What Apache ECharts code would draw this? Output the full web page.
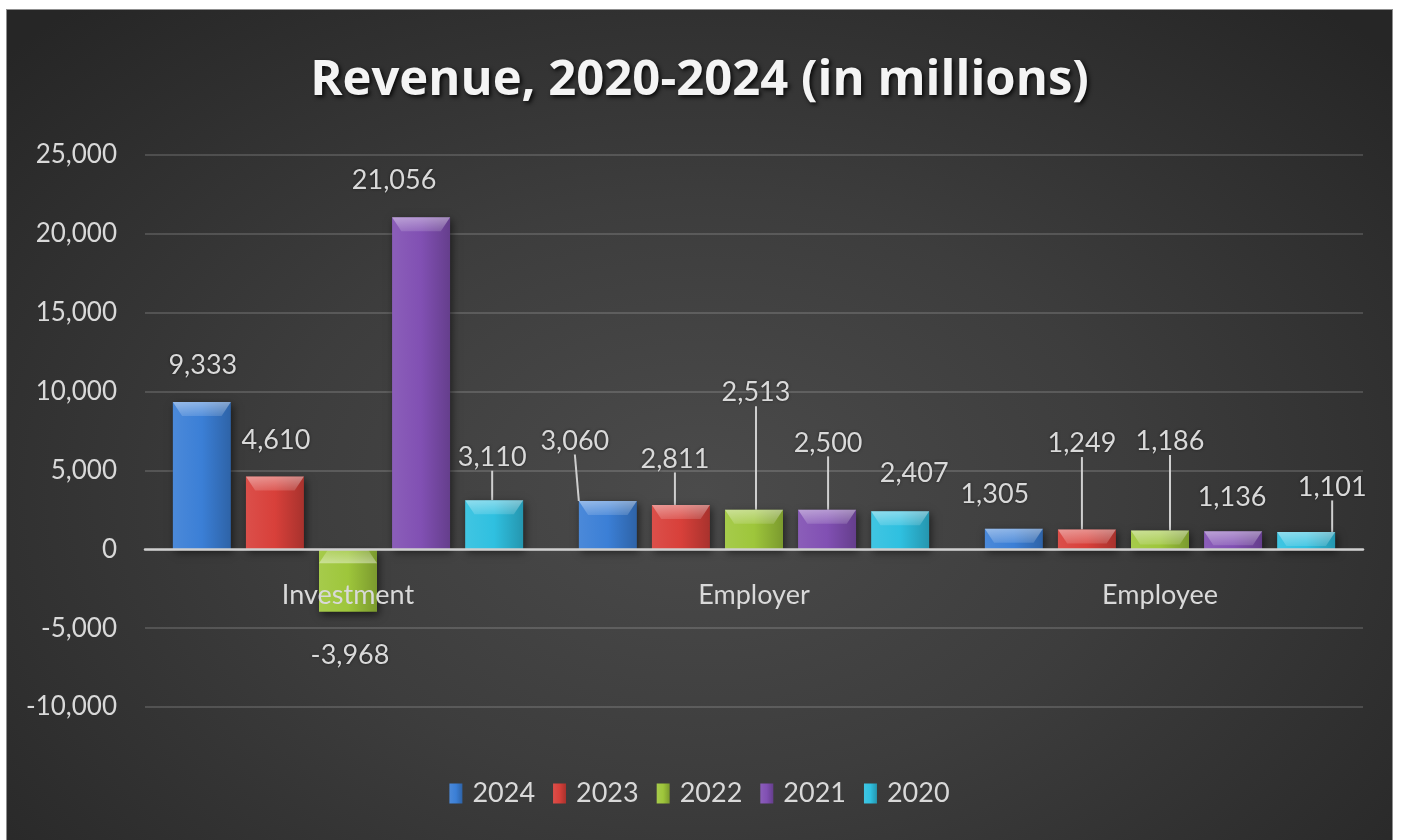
<!DOCTYPE html>
<html>
<head>
<meta charset="utf-8">
<title>Revenue, 2020-2024 (in millions)</title>
<script src="https://cdn.jsdelivr.net/npm/echarts@6/dist/echarts.min.js"></script>
<style>
  html, body { margin: 0; padding: 0; background: #ffffff; width: 1402px; height: 840px; overflow: hidden; }
  #chart {
    position: absolute; left: 7px; top: 10px; width: 1385px; height: 830px;
    background: radial-gradient(ellipse 68% 78% at 50% 58%, #4b4b4b 0%, #3d3d3d 45%, #262626 100%);
    box-shadow: 0 0 0 1px #8f8f8f;
  }
</style>
</head>
<body>
<div id="chart"></div>
<script>
// Revenue by source, in millions
const categories = ['Investment', 'Employer', 'Employee'];
const years = ['2024', '2023', '2022', '2021', '2020'];
const revenue2024 = [9333, 3060, 1305];
const revenue2023 = [4610, 2811, 1249];
const revenue2022 = [-3968, 2513, 1186];
const revenue2021 = [21056, 2500, 1136];
const revenue2020 = [3110, 2407, 1101];
const yMin = -10000, yMax = 25000, yStep = 5000;

const seriesValues = [revenue2024, revenue2023, revenue2022, revenue2021, revenue2020];
const baseColors = ['#3b7fd6', '#d8403a', '#9ec63b', '#8150b3', '#2fc0e0'];

// Label placement: pixel offset of the label centre from the bar's end, per category
const labelOffsets = [
  [[1, -37], [-33, -60], [-19, -34]],
  [[1, -36], [-6, -46], [-5, -86]],
  [[2, 43], [2, -117], [10, -89]],
  [[-27, -37], [1, -67], [-1, -34]],
  [[-2, -43], [14, -38], [26, -45]]
];
// Which labels get a leader line
const leaderLines = [
  [false, true, false],
  [false, true, true],
  [false, true, true],
  [false, true, false],
  [true, false, true]
];

const fmt = v => Number(v).toLocaleString('en-US');
const FONT = 'Lato, "Open Sans", sans-serif';
const TEXT = '#d9d9d9';

function shade(hex, f) {
  const n = parseInt(hex.slice(1), 16);
  let r = (n >> 16) & 255, g = (n >> 8) & 255, b = n & 255;
  const t = f < 0 ? 0 : 255, p = Math.abs(f);
  r = Math.round((t - r) * p + r); g = Math.round((t - g) * p + g); b = Math.round((t - b) * p + b);
  return 'rgb(' + r + ',' + g + ',' + b + ')';
}

const BAR_W = 58;
const BAR_GAP = '26%';

const series = [];
years.forEach((year, s) => {
  const vals = seriesValues[s];
  const base = baseColors[s];
  series.push({
    name: year,
    type: 'bar',
    barWidth: BAR_W,
    barGap: BAR_GAP,
    z: 2,
    data: vals.map((v, i) => ({
      value: v,
      labelLine: { show: leaderLines[s][i] }
    })),
    itemStyle: {
      color: {
        type: 'linear', x: 0, y: 0, x2: 1, y2: 0,
        colorStops: [
          { offset: 0, color: shade(base, 0.08) },
          { offset: 0.5, color: base },
          { offset: 1, color: shade(base, -0.22) }
        ]
      },
      shadowColor: 'rgba(0,0,0,0.55)',
      shadowBlur: 8,
      shadowOffsetX: 2,
      shadowOffsetY: 3
    },
    label: {
      show: true,
      position: 'top',
      color: TEXT,
      fontFamily: FONT,
      fontSize: 27,
      textShadowColor: 'rgba(0,0,0,0.5)',
      textShadowBlur: 3,
      formatter: p => fmt(p.value)
    },
    labelLine: {
      show: false,
      length2: 0,
      lineStyle: { color: '#cfcfcf', width: 2 }
    },
    labelLayout: function (p) {
      const r = p.rect;
      const top = Math.min(r.y, r.y + r.height);
      const bottom = Math.max(r.y, r.y + r.height);
      const cx = r.x + r.width / 2;
      const endY = vals[p.dataIndex] < 0 ? bottom : top;
      const off = labelOffsets[s][p.dataIndex];
      return { x: cx + off[0], y: endY + off[1], align: 'center', verticalAlign: 'middle' };
    }
  });
});

// Bevelled top face of each bar
years.forEach((year, s) => {
  series.push({
    name: year + ' bevel',
    type: 'pictorialBar',
    barWidth: BAR_W,
    barGap: BAR_GAP,
    silent: true,
    z: 3,
    symbol: 'path://M0,0 L100,0 L84,100 L16,100 Z',
    symbolSize: ['100%', 14],
    itemStyle: {
      color: {
        type: 'linear', x: 0, y: 0, x2: 0, y2: 1,
        colorStops: [
          { offset: 0, color: 'rgba(255,255,255,0.42)' },
          { offset: 1, color: 'rgba(255,255,255,0.14)' }
        ]
      }
    },
    label: { show: false },
    tooltip: { show: false },
    data: seriesValues[s].map(v => ({
      value: v,
      symbolPosition: v < 0 ? 'start' : 'end'
    }))
  });
});

const chart = echarts.init(document.getElementById('chart'), null, { renderer: 'canvas' });
chart.setOption({
  animation: false,
  backgroundColor: 'transparent',
  title: {
    text: 'Revenue, 2020-2024 (in millions)',
    left: 'center',
    top: 42,
    textStyle: {
      color: '#f4f4f4',
      fontFamily: '"Open Sans", Lato, sans-serif',
      fontWeight: 'bold',
      fontSize: 49,
      textShadowColor: 'rgba(0,0,0,0.85)',
      textShadowBlur: 4,
      textShadowOffsetX: 2,
      textShadowOffsetY: 2
    }
  },
  legend: {
    data: years,
    bottom: 28,
    left: 'center',
    icon: 'rect',
    itemWidth: 13,
    itemHeight: 20,
    itemGap: 18,
    textStyle: { color: TEXT, fontFamily: FONT, fontSize: 27, padding: [0, 0, 0, 5] }
  },
  grid: {
    left: 138, right: 29, top: 145, bottom: 133,
    containLabel: false,
    outerBoundsMode: 'none'
  },
  xAxis: {
    type: 'category',
    data: categories,
    z: 10,
    axisLine: { onZero: false, lineStyle: { color: '#cfcfcf', width: 2.5 } },
    axisTick: { show: false },
    axisLabel: { color: TEXT, fontFamily: FONT, fontSize: 27, margin: 33 },
    splitLine: { show: false }
  },
  yAxis: {
    type: 'value',
    min: yMin,
    max: yMax,
    interval: yStep,
    axisLine: { show: false },
    axisTick: { show: false },
    axisLabel: {
      color: TEXT, fontFamily: FONT, fontSize: 26, margin: 28,
      formatter: v => fmt(v)
    },
    splitLine: { lineStyle: { color: 'rgba(255,255,255,0.15)', width: 2 } }
  },
  series: series
});

// Put the category axis (line and labels) on the zero value
const zeroPx = chart.convertToPixel({ yAxisIndex: 0 }, 0);
const minPx = chart.convertToPixel({ yAxisIndex: 0 }, yMin);
chart.setOption({ xAxis: { offset: -(minPx - zeroPx) } });
</script>
</body>
</html>
